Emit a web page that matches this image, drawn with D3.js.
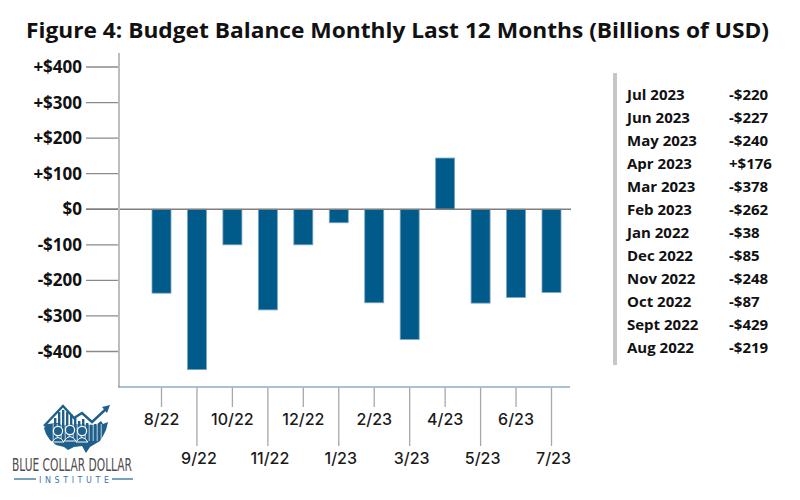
<!DOCTYPE html>
<html>
<head>
<meta charset="utf-8">
<script src="https://cdn.jsdelivr.net/npm/d3@7"></script>
<style>
  body { margin: 0; background: #fff; }
  svg { display: block; }
  .bold { font-family: "Open Sans", "Noto Sans", sans-serif; font-weight: 700; fill: #111; }
  .tick-label { font-family: Inter, Roboto, sans-serif; font-weight: 500; font-size: 16px; fill: #1a1a1a; }
</style>
</head>
<body>
<svg id="chart" width="800" height="500"></svg>
<script>
  const months = ["8/22", "9/22", "10/22", "11/22", "12/22", "1/23", "2/23", "3/23", "4/23", "5/23", "6/23", "7/23"];
  const balance = [-236, -451, -100, -283, -100, -38, -263, -366, 144, -264, -248, -234];
  const yTicks = [400, 300, 200, 100, 0, -100, -200, -300, -400];
  const tableMonths = ["Jul 2023", "Jun 2023", "May 2023", "Apr 2023", "Mar 2023", "Feb 2023", "Jan 2022", "Dec 2022", "Nov 2022", "Oct 2022", "Sept 2022", "Aug 2022"];
  const tableValues = ["-$220", "-$227", "-$240", "+$176", "-$378", "-$262", "-$38", "-$85", "-$248", "-$87", "-$429", "-$219"];

  const svg = d3.select("#chart");
  const barColor = "#005b8a";

  const x = d3.scalePoint().domain(months).range([161.5, 551.5]);
  const y = d3.scaleLinear().domain([-400, 400]).range([351.5, 67]);
  const barWidth = 19;

  const fmt = (v) => (v > 0 ? "+$" + v : v < 0 ? "-$" + Math.abs(v) : "$0");

  // title
  svg.append("text")
    .attr("class", "bold")
    .attr("x", 26)
    .attr("y", 38)
    .attr("font-size", 22)
    .attr("textLength", 743)
    .attr("lengthAdjust", "spacingAndGlyphs")
    .text("Figure 4: Budget Balance Monthly Last 12 Months (Billions of USD)");

  // y axis ticks + labels
  const yAxis = svg.append("g");
  yAxis.selectAll("line")
    .data(yTicks)
    .join("line")
    .attr("x1", 86)
    .attr("x2", 119)
    .attr("y1", (d) => y(d))
    .attr("y2", (d) => y(d))
    .attr("stroke", "#8a8a8a")
    .attr("stroke-width", 1.3);

  yAxis.selectAll("text")
    .data(yTicks)
    .join("text")
    .attr("class", "bold")
    .attr("font-size", 17)
    .attr("text-anchor", "end")
    .attr("x", 82)
    .attr("y", (d) => y(d) + 6)
    .text(fmt);

  // bars
  svg.append("g")
    .selectAll("rect")
    .data(balance)
    .join("rect")
    .attr("x", (d, i) => x(months[i]) - barWidth / 2)
    .attr("width", barWidth)
    .attr("y", (d) => Math.min(y(d), y(0)))
    .attr("height", (d) => Math.abs(y(d) - y(0)))
    .attr("fill", barColor)
    .attr("stroke", "#7aa6c3")
    .attr("stroke-width", 0.8);

  // zero line
  svg.append("line")
    .attr("x1", 86).attr("x2", 571)
    .attr("y1", y(0)).attr("y2", y(0))
    .attr("stroke", "#7f7f7f")
    .attr("stroke-width", 1.3);

  // vertical axis line
  svg.append("line")
    .attr("x1", 119).attr("x2", 119)
    .attr("y1", 53).attr("y2", 387)
    .attr("stroke", "#bdbdbd")
    .attr("stroke-width", 2);

  // bottom axis
  const axisY = 387;
  svg.append("line")
    .attr("x1", 118).attr("x2", 570)
    .attr("y1", axisY).attr("y2", axisY)
    .attr("stroke", "#4f86b0")
    .attr("stroke-width", 1);

  const xAxis = svg.append("g");
  xAxis.selectAll("line")
    .data(months)
    .join("line")
    .attr("x1", (d) => x(d))
    .attr("x2", (d) => x(d))
    .attr("y1", axisY + 0.5)
    .attr("y2", (d, i) => (i % 2 === 0 ? 407 : 446))
    .attr("stroke", "#a8a8a8")
    .attr("stroke-width", 1.3);

  xAxis.selectAll("text")
    .data(months)
    .join("text")
    .attr("class", "tick-label")
    .attr("text-anchor", "middle")
    .attr("x", (d, i) => x(d) + (i % 2 === 0 ? 0 : 2))
    .attr("y", (d, i) => (i % 2 === 0 ? 424.5 : 464))
    .text((d) => d);

  // side table
  const table = svg.append("g");
  table.append("rect")
    .attr("x", 613).attr("y", 73)
    .attr("width", 4).attr("height", 292)
    .attr("fill", "#c6c6c6");

  const rowY = (i) => 99.5 + i * 23.06;
  table.selectAll("text.month")
    .data(tableMonths)
    .join("text")
    .attr("class", "bold month")
    .attr("font-size", 15)
    .attr("x", 627)
    .attr("y", (d, i) => rowY(i))
    .text((d) => d);

  table.selectAll("text.value")
    .data(tableValues)
    .join("text")
    .attr("class", "bold value")
    .attr("font-size", 15)
    .attr("x", 729)
    .attr("y", (d, i) => rowY(i))
    .text((d) => d);

  // logo
  const logo = svg.append("g");
  const blue = "#1f5f8b";
  // map silhouette
  logo.append("path")
    .attr("d", "M44,428 L47,424 L58,423 L62,425 L78,424 L96,425 L101,421 L103,424 L108,422 L106,430 L103,436 L100,441 L95,444 L90,447 L86,453 L82,446 L74,447 L68,450 L64,447 L56,445 L50,440 L46,434 Z")
    .attr("fill", blue);
  // bars rising behind
  const stripes = [50, 54, 58, 62, 66, 70, 74, 78, 82, 86, 90, 94, 98];
  const tops = [425, 418, 412, 410, 412, 414, 418, 421, 419, 423, 425, 424, 426];
  logo.selectAll("rect.bar")
    .data(stripes)
    .join("rect")
    .attr("class", "bar")
    .attr("x", (d) => d)
    .attr("y", (d, i) => tops[i])
    .attr("width", 2.4)
    .attr("height", (d, i) => 440 - tops[i])
    .attr("fill", blue);
  // white gaps through the map
  logo.selectAll("line.gap")
    .data(stripes)
    .join("line")
    .attr("class", "gap")
    .attr("x1", (d) => d + 3.2).attr("x2", (d) => d + 3.2)
    .attr("y1", 424).attr("y2", 441)
    .attr("stroke", "#fff")
    .attr("stroke-width", 0.9)
    .attr("opacity", 0.8);
  // trend line with arrow
  logo.append("path")
    .attr("d", "M44,426 L63,406 L74,418 L82,413 L92,422 L106,409")
    .attr("fill", "none")
    .attr("stroke", blue)
    .attr("stroke-width", 2.4);
  logo.append("path")
    .attr("d", "M102,407 L110,405 L107,413 Z")
    .attr("fill", blue);
  // three heads
  [[58, 431], [70, 430], [82, 431]].forEach(([cx, cy]) => {
    logo.append("circle").attr("cx", cx).attr("cy", cy).attr("r", 4.6)
      .attr("fill", blue).attr("stroke", "#fff").attr("stroke-width", 1.2);
    logo.append("path")
      .attr("d", `M${cx - 6},${cy + 11} Q${cx},${cy + 2} ${cx + 6},${cy + 11} Z`)
      .attr("fill", blue).attr("stroke", "#fff").attr("stroke-width", 1);
  });

  logo.append("text")
    .attr("x", 12).attr("y", 471)
    .attr("font-family", "'Liberation Sans Narrow', 'DejaVu Sans Condensed', 'Roboto', sans-serif")
    .attr("font-weight", 400)
    .attr("font-size", 17)
    .attr("fill", "#4d4d4d")
    .attr("textLength", 120)
    .attr("lengthAdjust", "spacingAndGlyphs")
    .text("BLUE COLLAR DOLLAR");

  logo.append("line").attr("x1", 14).attr("x2", 36).attr("y1", 479).attr("y2", 479)
    .attr("stroke", "#3b7aa6").attr("stroke-width", 1.4);
  logo.append("line").attr("x1", 112).attr("x2", 133).attr("y1", 479).attr("y2", 479)
    .attr("stroke", "#3b7aa6").attr("stroke-width", 1.4);
  logo.append("text")
    .attr("x", 39).attr("y", 482.5)
    .attr("font-family", "'DejaVu Sans', sans-serif")
    .attr("font-size", 8)
    .attr("fill", "#3b7aa6")
    .attr("textLength", 70)
    .attr("lengthAdjust", "spacing")
    .text("INSTITUTE");
</script>
</body>
</html>
